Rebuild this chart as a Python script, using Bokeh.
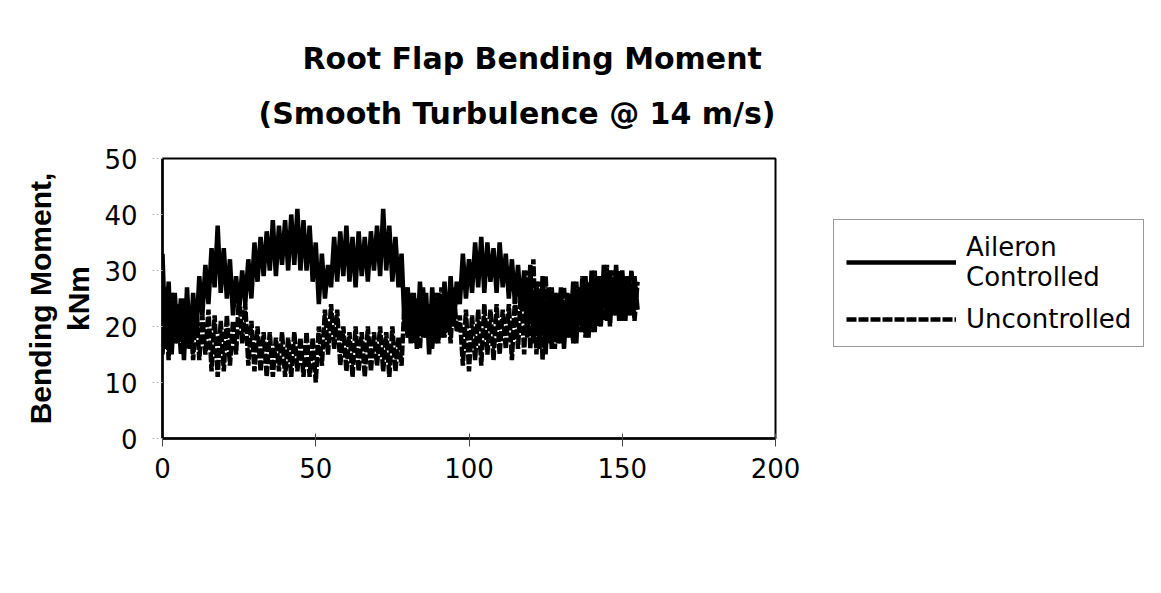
from bokeh.plotting import figure
from bokeh.models import FixedTicker, Legend, LegendItem, Title
from bokeh.embed import file_html
from bokeh.resources import INLINE

# ---- data (time in s, bending moment in kNm) ----
aileron_controlled = [
    33, 16, 28, 15, 26, 17, 25, 14, 27, 16,
    26, 18, 29, 22, 31, 24, 34, 27, 38, 26,
    34, 25, 32, 22, 29, 23, 30, 24, 32, 25,
    35, 28, 36, 29, 37, 30, 39, 29, 38, 31,
    39, 30, 40, 31, 41, 30, 39, 30, 38, 28,
    35, 24, 33, 25, 31, 27, 36, 28, 37, 29,
    38, 28, 36, 27, 37, 29, 36, 28, 37, 30,
    38, 29, 41, 30, 38, 28, 36, 27, 33, 20,
    27, 17, 26, 16, 28, 18, 26, 15, 27, 17,
    26, 18, 28, 19, 29, 20, 28, 24, 33, 25,
    32, 26, 35, 27, 36, 26, 35, 28, 34, 26,
    35, 27, 33, 25, 32, 24, 31, 23, 30, 18,
    31, 17, 28, 16, 29, 15, 27, 16, 26, 17,
    27, 16, 26, 18, 28, 17, 27, 19, 29, 18,
    30, 19, 29, 20, 31, 21, 30, 22, 31, 21,
    30, 21, 29, 22, 29, 23,
]
uncontrolled = [
    15, 27, 14, 26, 17, 24, 15, 25, 16, 23,
    14, 24, 14, 22, 15, 23, 12, 22, 11, 21,
    12, 22, 13, 21, 15, 26, 17, 24, 13, 21,
    12, 20, 12, 19, 11, 19, 11, 18, 12, 19,
    11, 18, 11, 19, 12, 18, 11, 19, 11, 18,
    10, 20, 13, 23, 15, 24, 16, 23, 13, 20,
    12, 19, 11, 20, 12, 19, 11, 20, 12, 19,
    13, 20, 12, 19, 11, 20, 12, 18, 13, 25,
    18, 26, 17, 25, 16, 27, 18, 24, 16, 26,
    17, 27, 18, 26, 17, 27, 19, 22, 13, 23,
    12, 22, 14, 23, 13, 24, 15, 23, 14, 24,
    15, 23, 16, 24, 14, 25, 16, 27, 15, 30,
    16, 32, 15, 28, 14, 29, 17, 27, 16, 26,
    17, 27, 18, 26, 17, 28, 19, 29, 18, 28,
    19, 30, 20, 29, 21, 31, 20, 30, 22, 30,
    21, 29, 22, 30, 21, 28,
]
time_s = list(range(len(aileron_controlled)))
x_ticks = [0, 50, 100, 150, 200]
y_ticks = [0, 10, 20, 30, 40, 50]
series_labels = ["Aileron\nControlled", "Uncontrolled"]
title_line1 = "Root Flap Bending Moment"
title_line2 = "(Smooth Turbulence @ 14 m/s)"
ylabel_line1 = "Bending Moment,"
ylabel_line2 = "kNm"

TICK_FONT = "DejaVu Sans"
TITLE_FONT = "DejaVu Sans"
YLAB_FONT = "Liberation Sans"

p = figure(frame_width=613, frame_height=280, x_range=(0, 200), y_range=(0, 50),
           output_backend="svg", toolbar_location=None,
           min_border_left=162, min_border_right=370,
           min_border_top=158, min_border_bottom=139,
           title=title_line1)

p.background_fill_color = "white"
p.border_fill_color = "white"
p.outline_line_color = "black"
p.outline_line_width = 2
p.xgrid.visible = False
p.ygrid.visible = False

# titles (line 1 outermost, line 2 next to the frame)
p.title.align = "left"
p.title.offset = 140
p.title.text_font = TITLE_FONT
p.title.text_font_size = "30px"
p.title.text_font_style = "bold"
p.title.text_color = "black"
p.title.standoff = -20
t2 = Title(text=title_line2, align="left", offset=96, text_font=TITLE_FONT,
           text_font_size="30px", text_font_style="bold", text_color="black",
           standoff=56)
p.add_layout(t2, "above")

# axes
for ax in (p.xaxis[0], p.yaxis[0]):
    ax.axis_line_color = "black"
    ax.axis_line_width = 2.5
    ax.major_label_text_font = TICK_FONT
    ax.major_label_text_font_size = "26px"
    ax.major_label_text_color = "black"
    ax.minor_tick_line_color = None

p.xaxis.ticker = FixedTicker(ticks=x_ticks)
p.yaxis.ticker = FixedTicker(ticks=y_ticks)
p.xaxis.major_tick_in = 5
p.xaxis.major_tick_out = 8
p.xaxis.major_tick_line_color = "#444444"
p.xaxis.major_tick_line_width = 1
p.xaxis.major_label_standoff = 11
p.yaxis.major_tick_in = 0
p.yaxis.major_tick_out = 10
p.yaxis.major_tick_line_color = "#bbbbbb"
p.yaxis.major_tick_line_width = 1
p.yaxis.major_tick_line_dash = "2 2"
p.yaxis.major_label_standoff = 15

# y-axis label as two rotated lines
yl2 = Title(text=ylabel_line2, align="center", text_font=YLAB_FONT,
            text_font_size="30px", text_font_style="bold", text_color="black",
            standoff=14)
p.add_layout(yl2, "left")
yl1 = Title(text=ylabel_line1, align="center", text_font=YLAB_FONT,
            text_font_size="30px", text_font_style="bold", text_color="black",
            standoff=-8)
p.add_layout(yl1, "left")

# data
r1 = p.line(time_s, aileron_controlled, line_color="black", line_width=4.5)
r2 = p.line(time_s, uncontrolled, line_color="black", line_width=4.5,
            line_dash="10 2")

legend = Legend(items=[LegendItem(label=series_labels[0], renderers=[r1]),
                       LegendItem(label=series_labels[1], renderers=[r2])],
                location=(58, 91))
legend.label_text_font = TICK_FONT
legend.label_text_font_size = "26px"
legend.label_text_color = "black"
legend.label_text_line_height = 1.4
legend.glyph_width = 110
legend.glyph_height = 30
legend.label_standoff = 10
legend.padding = 12
legend.spacing = 12
legend.margin = 0
legend.border_line_color = "#333333"
legend.border_line_width = 1
legend.background_fill_alpha = 0
p.add_layout(legend, "right")

open("out.html", "w").write(file_html(p, INLINE))
